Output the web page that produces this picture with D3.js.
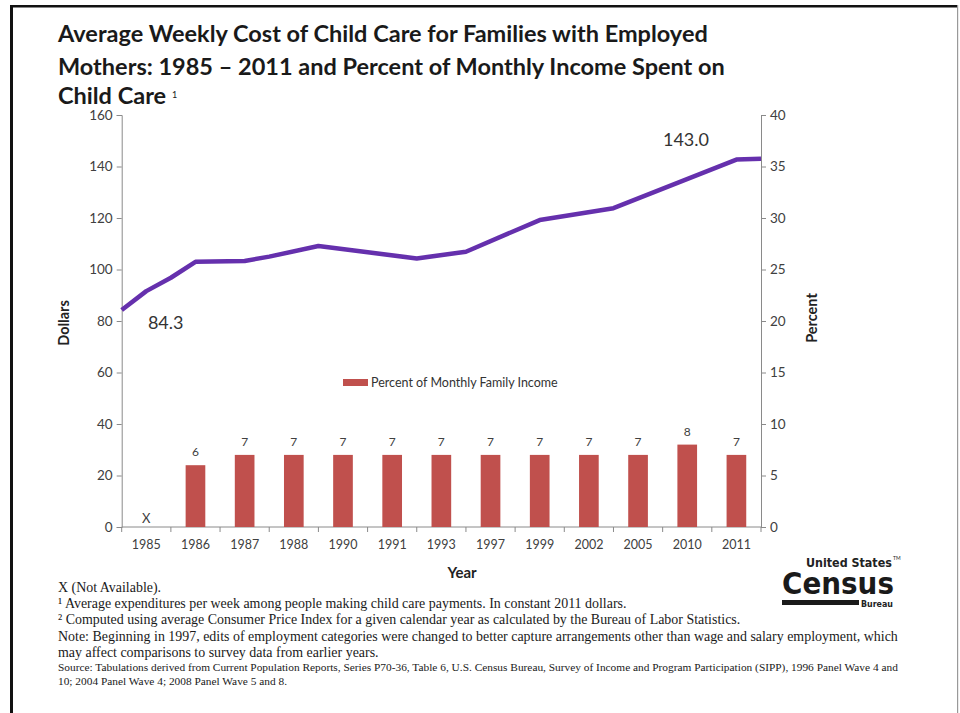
<!DOCTYPE html>
<html>
<head>
<meta charset="utf-8">
<script src="https://cdn.jsdelivr.net/npm/d3@7"></script>
<style>
  html, body { margin: 0; padding: 0; background: #fff; }
  svg { display: block; }
</style>
</head>
<body>
<svg id="chart" width="960" height="713"></svg>
<script>
// ---------------- DATA ----------------
const years = ["1985","1986","1987","1988","1990","1991","1993","1997","1999","2002","2005","2010","2011"];
const weeklyCost = [84.3, 91.6, 96.8, 103.0, 103.3, 105.0, 109.1, 104.3, 106.9, 119.2, 123.8, 142.7, 143.0];
const percentIncome = [null, 6, 7, 7, 7, 7, 7, 7, 7, 7, 7, 8, 7];
const percentLabels = ["X", "6", "7", "7", "7", "7", "7", "7", "7", "7", "7", "8", "7"];
const dollarTicks = [0, 20, 40, 60, 80, 100, 120, 140, 160];
const percentTicks = [0, 5, 10, 15, 20, 25, 30, 35, 40];
const titleLines = [
  "Average Weekly Cost of Child Care for Families with Employed",
  "Mothers: 1985 \u2013 2011 and Percent of Monthly Income Spent on",
  "Child Care"
];
const footnotes = [
  "X (Not Available).",
  "\u00B9 Average expenditures per week among people making child care payments. In constant 2011 dollars.",
  "\u00B2 Computed using average Consumer Price Index for a given calendar year as calculated by the Bureau of Labor Statistics.",
  "Note: Beginning in 1997, edits of employment categories were changed to better capture arrangements other than wage and salary employment, which",
  "may affect comparisons to survey data from earlier years."
];
const sourceLines = [
  "Source: Tabulations derived from Current Population Reports, Series P70-36, Table 6, U.S. Census Bureau, Survey of Income and Program Participation (SIPP), 1996 Panel Wave 4 and",
  "10; 2004 Panel Wave 4; 2008 Panel Wave 5 and 8."
];

// ---------------- LAYOUT ----------------
const svg = d3.select("#chart");
const plotL = 121.7, plotR = 761, plotT = 115, plotB = 527;
const sansFont = "Lato, 'Open Sans', sans-serif";
const serifFont = "'Liberation Serif', 'DejaVu Serif', serif";
const narrowFont = "'Liberation Sans Narrow', 'DejaVu Sans Condensed', 'Liberation Sans', sans-serif";

function fit(textSel, target) {
  const node = textSel.node();
  const fs = parseFloat(textSel.attr("font-size"));
  const w = node.getComputedTextLength();
  const nfs = fs * target / w;
  textSel.attr("font-size", nfs);
  return nfs;
}

// frame
svg.append("rect").attr("x", 10).attr("y", 5).attr("width", 948).attr("height", 2.5).attr("fill", "#111");
svg.append("rect").attr("x", 10).attr("y", 5).attr("width", 3).attr("height", 708).attr("fill", "#111");
svg.append("rect").attr("x", 957).attr("y", 5).attr("width", 1.2).attr("height", 708).attr("fill", "#999");

// title
const titleBase = [42, 75, 104];
const t0 = svg.append("text").attr("x", 58).attr("y", titleBase[0])
  .attr("font-family", sansFont).attr("font-weight", 700)
  .attr("font-size", 22).attr("fill", "#1a1a1a").text(titleLines[0]);
const tfs = fit(t0, 650);
svg.append("text").attr("x", 58).attr("y", titleBase[1])
  .attr("font-family", sansFont).attr("font-weight", 700)
  .attr("font-size", tfs).attr("fill", "#1a1a1a").text(titleLines[1]);
const t2 = svg.append("text").attr("x", 58).attr("y", titleBase[2])
  .attr("font-family", sansFont).attr("font-weight", 700)
  .attr("font-size", tfs).attr("fill", "#1a1a1a").text(titleLines[2]);
t2.append("tspan").attr("dx", 6).attr("dy", -6).attr("font-size", 9).attr("font-weight", 400).text("1");

// scales
const xBand = d3.scaleBand().domain(years).range([plotL, plotR]).paddingInner(0.6).paddingOuter(0.3);
const xYear = d3.scaleLinear().domain([1985, 2011]).range([plotL, plotR]);
const yL = d3.scaleLinear().domain([0, 160]).range([plotB, plotT]);
const yR = d3.scaleLinear().domain([0, 40]).range([plotB, plotT]);

// axes
const axisColor = "#8a8a8a";
const gL = svg.append("g").attr("transform", `translate(${plotL},0)`)
  .call(d3.axisLeft(yL).tickValues(dollarTicks).tickSize(5).tickPadding(4));
const gR = svg.append("g").attr("transform", `translate(${plotR},0)`)
  .call(d3.axisRight(yR).tickValues(percentTicks).tickSize(5).tickPadding(4));
const gX = svg.append("g").attr("transform", `translate(0,${plotB})`)
  .call(d3.axisBottom(xBand).tickSize(0).tickPadding(13));
[gL, gR, gX].forEach(g => {
  g.selectAll("path, line").attr("stroke", axisColor);
  g.selectAll("text").attr("font-family", sansFont).attr("fill", "#404040");
});
gL.selectAll("text").attr("font-size", 13.5);
gR.selectAll("text").attr("font-size", 13.5);
gX.selectAll("text").attr("font-size", 12.5);
gX.select(".domain").attr("d", `M${plotL},0H${plotR}`);
// category boundary ticks
const boundaries = d3.range(years.length + 1).map(i => plotL + i * xBand.step());
gX.selectAll(".bt").data(boundaries).join("line").attr("class", "bt")
  .attr("x1", d => d).attr("x2", d => d).attr("y1", 0).attr("y2", 5).attr("stroke", axisColor);

// axis titles
svg.append("text").attr("transform", "translate(69,323) rotate(-90)").attr("text-anchor", "middle")
  .attr("font-family", sansFont).attr("font-weight", 700).attr("font-size", 14.5).attr("fill", "#222").text("Dollars");
svg.append("text").attr("transform", "translate(817,318) rotate(-90)").attr("text-anchor", "middle")
  .attr("font-family", sansFont).attr("font-weight", 700).attr("font-size", 14.5).attr("fill", "#222").text("Percent");
svg.append("text").attr("x", 462).attr("y", 578).attr("text-anchor", "middle")
  .attr("font-family", sansFont).attr("font-weight", 700).attr("font-size", 15).attr("fill", "#222").text("Year");

// bars
const barData = years.map((y, i) => ({ year: y, v: percentIncome[i], label: percentLabels[i] }));
svg.append("g").selectAll("rect").data(barData.filter(d => d.v != null)).join("rect")
  .attr("x", d => xBand(d.year)).attr("width", xBand.bandwidth())
  .attr("y", d => yR(d.v)).attr("height", d => plotB - yR(d.v)).attr("fill", "#c0504d");
svg.append("g").selectAll("text").data(barData).join("text")
  .attr("x", d => xBand(d.year) + xBand.bandwidth() / 2)
  .attr("y", d => d.v == null ? plotB - 4 : yR(d.v) - 9)
  .attr("text-anchor", "middle").attr("font-family", sansFont)
  .attr("font-size", d => d.v == null ? 13 : 12).attr("fill", "#404040").text(d => d.label);

// line
const lineData = years.map((y, i) => ({ yr: +y, v: weeklyCost[i] }));
svg.append("path").datum(lineData)
  .attr("d", d3.line().x(d => xYear(d.yr)).y(d => yL(d.v)))
  .attr("fill", "none").attr("stroke", "#6530ad").attr("stroke-width", 4.5)
  .attr("stroke-linejoin", "round");

// line labels
svg.append("text").attr("x", xYear(1985) + 44).attr("y", yL(weeklyCost[0]) + 19)
  .attr("text-anchor", "middle").attr("font-family", sansFont).attr("font-size", 18)
  .attr("fill", "#333").text(weeklyCost[0].toFixed(1));
svg.append("text").attr("x", xYear(2011) - 75).attr("y", yL(weeklyCost[12]) - 13)
  .attr("text-anchor", "middle").attr("font-family", sansFont).attr("font-size", 18)
  .attr("fill", "#333").text(weeklyCost[12].toFixed(1));

// legend
svg.append("rect").attr("x", 343).attr("y", 379).attr("width", 25).attr("height", 7).attr("fill", "#c0504d");
svg.append("text").attr("x", 371).attr("y", 386.5).attr("font-family", sansFont).attr("font-size", 12.5)
  .attr("fill", "#333").text("Percent of Monthly Family Income");

// footnotes
const fnBase = [592, 608, 624, 641, 657];
const fnSel = footnotes.map((t, i) => svg.append("text").attr("x", 58).attr("y", fnBase[i])
  .attr("font-family", serifFont).attr("font-size", 12).attr("fill", "#1a1a1a").text(t));
const fnfs = fit(fnSel[3], 840);
fnSel.forEach(s => s.attr("font-size", fnfs));
const srcBase = [671, 685];
const srcSel = sourceLines.map((t, i) => svg.append("text").attr("x", 58).attr("y", srcBase[i])
  .attr("font-family", serifFont).attr("font-size", 10).attr("fill", "#1a1a1a").text(t));
const sfs = fit(srcSel[0], 840);
srcSel.forEach(s => s.attr("font-size", sfs));

// census logo
const logo = svg.append("g");
const us = logo.append("text").attr("x", 806).attr("y", 567)
  .attr("font-family", narrowFont)
  .attr("font-weight", 700).attr("font-size", 12).attr("fill", "#222").text("United States");
fit(us, 86);
logo.append("text").attr("x", 893).attr("y", 560).attr("font-family", sansFont)
  .attr("font-size", 5).attr("fill", "#222").text("TM");
const cen = logo.append("text").attr("x", 782).attr("y", 594)
  .attr("font-family", narrowFont)
  .attr("font-weight", 700).attr("font-size", 28).attr("fill", "#1a1a1a").text("Census");
fit(cen, 112);
logo.append("rect").attr("x", 782).attr("y", 600).attr("width", 77).attr("height", 5).attr("fill", "#1a1a1a");
const bur = logo.append("text").attr("x", 861).attr("y", 607)
  .attr("font-family", narrowFont).attr("font-weight", 700)
  .attr("font-size", 7).attr("fill", "#222").text("Bureau");
fit(bur, 32);
</script>
</body>
</html>
